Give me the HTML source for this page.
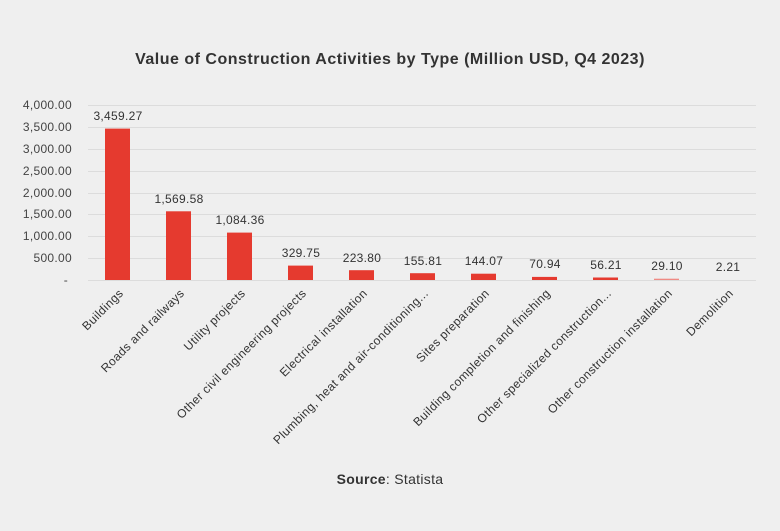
<!DOCTYPE html>
<html><head><style>
body{margin:0;background:#efefef;}
svg{display:block;font-family:"Liberation Sans",sans-serif;}
</style></head><body>
<svg width="780" height="531" viewBox="0 0 780 531">
<rect width="780" height="531" fill="#efefef"/>
<text x="390" y="64" text-anchor="middle" font-size="16" font-weight="bold" fill="#333" letter-spacing="0.5">Value of Construction Activities by Type (Million USD, Q4 2023)</text>
<g stroke="#dcdcdc" stroke-width="1">
<line x1="88" x2="756" y1="105.5" y2="105.5"/><line x1="88" x2="756" y1="127.5" y2="127.5"/>
<line x1="88" x2="756" y1="149.5" y2="149.5"/><line x1="88" x2="756" y1="171.5" y2="171.5"/>
<line x1="88" x2="756" y1="193.5" y2="193.5"/><line x1="88" x2="756" y1="214.5" y2="214.5"/>
<line x1="88" x2="756" y1="236.5" y2="236.5"/><line x1="88" x2="756" y1="258.5" y2="258.5"/>
<line x1="88" x2="756" y1="280.5" y2="280.5"/>
</g>
<g font-size="12" fill="#444" text-anchor="end" letter-spacing="0.3">
<text x="72" y="109">4,000.00</text><text x="72" y="131">3,500.00</text><text x="72" y="153">3,000.00</text>
<text x="72" y="175">2,500.00</text><text x="72" y="197">2,000.00</text><text x="72" y="218">1,500.00</text>
<text x="72" y="240">1,000.00</text><text x="72" y="262">500.00</text><text x="68" y="284">-</text>
</g>
<g fill="#e53a2f">
<rect x="105" y="128.6" width="25" height="151.4"/>
<rect x="166" y="211.3" width="25" height="68.7"/>
<rect x="227" y="232.6" width="25" height="47.4"/>
<rect x="288" y="265.6" width="25" height="14.4"/>
<rect x="349" y="270.2" width="25" height="9.8"/>
<rect x="410" y="273.2" width="25" height="6.8"/>
<rect x="471" y="273.7" width="25" height="6.3"/>
<rect x="532" y="276.9" width="25" height="3.1"/>
<rect x="593" y="277.5" width="25" height="2.5"/>
<rect x="654" y="278.7" width="25" height="1.3" fill="#ef8a84"/>
</g>
<g font-size="12" fill="#333" text-anchor="middle" letter-spacing="0.3">
<text x="118" y="120">3,459.27</text><text x="179" y="203">1,569.58</text><text x="240" y="224">1,084.36</text>
<text x="301" y="257">329.75</text><text x="362" y="262">223.80</text><text x="423" y="265">155.81</text>
<text x="484" y="265">144.07</text><text x="545" y="268">70.94</text><text x="606" y="269">56.21</text>
<text x="667" y="270">29.10</text><text x="728" y="271">2.21</text>
</g>
<g font-size="12" fill="#333" text-anchor="end" letter-spacing="0.4">
<text transform="translate(124,294) rotate(-45)">Buildings</text>
<text transform="translate(185,294) rotate(-45)">Roads and railways</text>
<text transform="translate(246,294) rotate(-45)">Utility projects</text>
<text transform="translate(307,294) rotate(-45)">Other civil engineering projects</text>
<text transform="translate(368,294) rotate(-45)">Electrical installation</text>
<text transform="translate(429,294) rotate(-45)">Plumbing, heat and air-conditioning...</text>
<text transform="translate(490,294) rotate(-45)">Sites preparation</text>
<text transform="translate(551,294) rotate(-45)">Building completion and finishing</text>
<text transform="translate(612,294) rotate(-45)">Other specialized construction...</text>
<text transform="translate(673,294) rotate(-45)">Other construction installation</text>
<text transform="translate(734,294) rotate(-45)">Demolition</text>
</g>
<text x="390" y="484" text-anchor="middle" font-size="14" fill="#333" letter-spacing="0.3"><tspan font-weight="bold">Source</tspan>: Statista</text>
</svg>
</body></html>
